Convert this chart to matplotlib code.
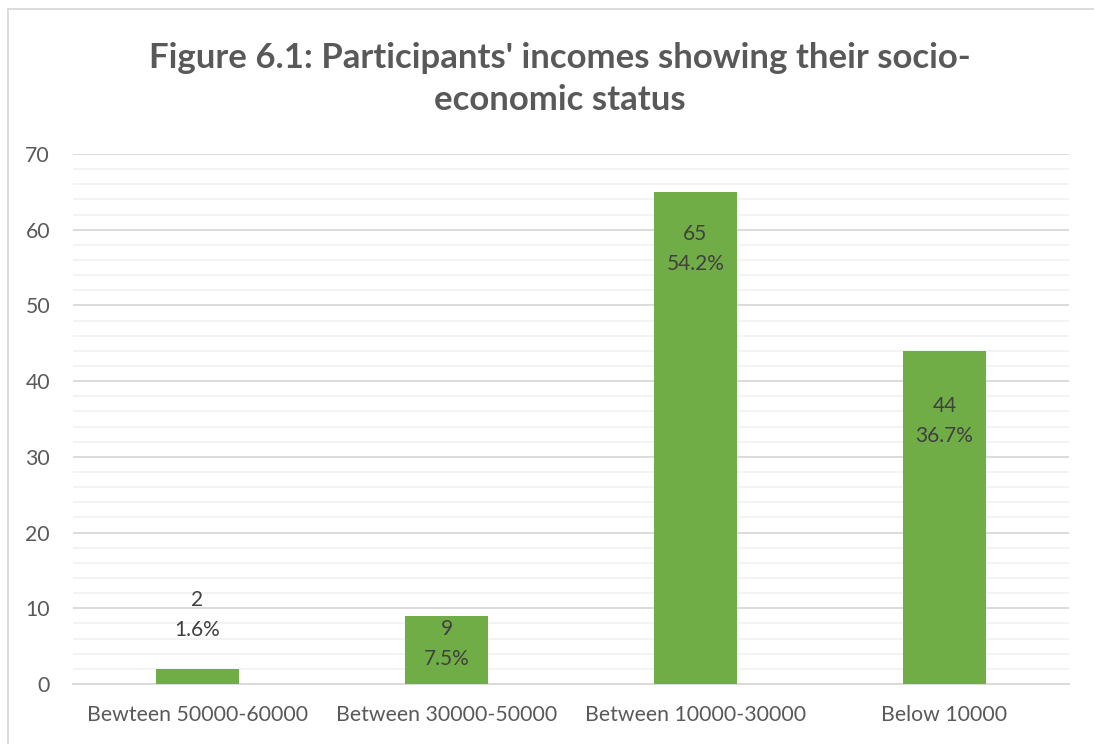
import matplotlib
matplotlib.use("Agg")
import matplotlib.pyplot as plt
from matplotlib.lines import Line2D
from matplotlib.ticker import MultipleLocator

categories = ["Bewteen 50000-60000", "Between 30000-50000", "Between 10000-30000", "Below 10000"]
counts = [2, 9, 65, 44]
percents = ["1.6%", "7.5%", "54.2%", "36.7%"]
title = "Figure 6.1: Participants' incomes showing their socio-\neconomic status"

# label vertical offsets (pixels relative to bar top)
label_offsets_px = [54, -28, -57, -70]

FONT = "Lato"
TXT = "#595959"

fig = plt.figure(figsize=(10.94, 7.44), dpi=100)
ax = fig.add_axes([73/1094, 1-684/744, (1069-73)/1094, (684-154)/744])

x = range(len(categories))
ax.bar(x, counts, width=1/3, color="#70ad47", zorder=3)
ax.set_xlim(-0.5, 3.5)
ax.set_ylim(0, 70)
ax.yaxis.set_major_locator(MultipleLocator(10))
ax.yaxis.set_minor_locator(MultipleLocator(2))
ax.grid(which="major", axis="y", color="#d9d9d9", linewidth=1.3, zorder=0)
ax.grid(which="minor", axis="y", color="#f2f2f2", linewidth=1.3, zorder=0)
for s in ["top", "right", "left"]:
    ax.spines[s].set_visible(False)
ax.spines["bottom"].set_color("#d9d9d9")
ax.spines["bottom"].set_linewidth(1.3)
ax.tick_params(axis="both", which="both", length=0, colors=TXT, labelsize=15.3)
ax.tick_params(axis="y", pad=16.5)
ax.tick_params(axis="x", pad=15)
ax.set_xticks(list(x))
ax.set_xticklabels(categories, fontfamily=FONT)
for lab in ax.get_yticklabels():
    lab.set_fontfamily(FONT)

for i, (c, p, off) in enumerate(zip(counts, percents, label_offsets_px)):
    ax.annotate(f"{c}\n{p}", xy=(i, c), xytext=(0, off * 0.72), textcoords="offset points",
                ha="center", va="center", fontsize=15, color="#404040",
                fontfamily=FONT, linespacing=1.65)

fig.text(560/1094, 1-79/744, title, ha="center", va="center", fontsize=25,
         fontweight="bold", color=TXT, fontfamily=FONT, linespacing=1.37)

fig.add_artist(Line2D([8/1094, 8/1094], [0, 1-9/744], transform=fig.transFigure, color="#d9d9d9", lw=1.3))
fig.add_artist(Line2D([8/1094, 1], [1-9/744, 1-9/744], transform=fig.transFigure, color="#d9d9d9", lw=1.3))

fig.savefig("out.png", dpi=100)
